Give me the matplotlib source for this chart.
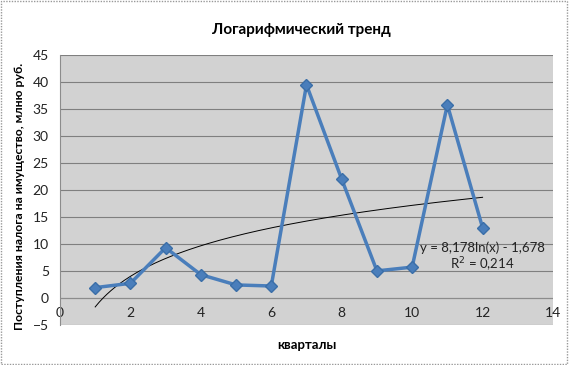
import numpy as np
import matplotlib.pyplot as plt
from matplotlib.patches import Rectangle

plt.rcParams['font.family'] = ['Lato', 'DejaVu Sans']

# квартал и поступления налога, млн руб.
quarters = [1, 2, 3, 4, 5, 6, 7, 8, 9, 10, 11, 12]
revenue = [1.9, 2.7, 9.3, 4.3, 2.4, 2.2, 39.5, 22.0, 5.0, 5.7, 35.8, 13.0]

x_ticks = [0, 2, 4, 6, 8, 10, 12, 14]
y_ticks = [-5, 0, 5, 10, 15, 20, 25, 30, 35, 40, 45]

# логарифмический тренд (как в подписи на графике)
trend_a = 8.178
trend_b = -1.678
trend_label = 'y = 8,178ln(x) - 1,678\nR$^2$ = 0,214'

fig = plt.figure(figsize=(5.69, 3.65), dpi=100)
ax = fig.add_axes([0.1054, 0.110, 0.8665, 0.739])

ax.set_facecolor('#d2d2d2')
ax.set_xlim(0, 14)
ax.set_ylim(-5, 45)
ax.set_xticks(x_ticks)
ax.set_yticks(y_ticks)

ax.grid(axis='y', color='#7f7f7f', linewidth=0.8)
ax.set_axisbelow(True)
for side in ['top', 'right', 'bottom']:
    ax.spines[side].set_visible(False)
ax.spines['left'].set_color('#8c8c8c')
ax.axhline(0, color='#8c8c8c', linewidth=0.8, zorder=1)

ax.tick_params(axis='y', length=0, pad=8, labelsize=10, colors='#222222')
ax.tick_params(axis='x', length=0, pad=-13, labelsize=10, colors='#222222')

xt = np.linspace(min(quarters), max(quarters), 200)
ax.plot(xt, trend_a * np.log(xt) + trend_b, color='black', linewidth=0.7, zorder=3)

ax.plot(quarters, revenue, color='#4a7ebb', linewidth=2.5, marker='D',
        markersize=6, markerfacecolor='#4a7ebb', markeredgecolor='#3a6ea8', zorder=4)

ax.text(12.0, 4.5, trend_label, ha='center', va='bottom', fontsize=9.5,
        color='#222222', linespacing=1.1, multialignment='center', zorder=5)

fig.text(0.53, 0.918, 'Логарифмический тренд', ha='center', va='center',
         fontsize=11, fontweight='bold')
fig.text(0.54, 0.055, 'кварталы', ha='center', va='center',
         fontsize=9.5, fontweight='bold')
fig.text(0.035, 0.463, 'Поступления налога на имущество, млню руб.', ha='center',
         va='center', rotation=90, fontsize=8.8, fontweight='bold')

fig.patches.append(Rectangle((0.002, 0.003), 0.995, 0.993, transform=fig.transFigure,
                             fill=False, edgecolor='#999999', linestyle=(0, (1, 1)),
                             linewidth=1))

fig.savefig('out.png', dpi=100)
